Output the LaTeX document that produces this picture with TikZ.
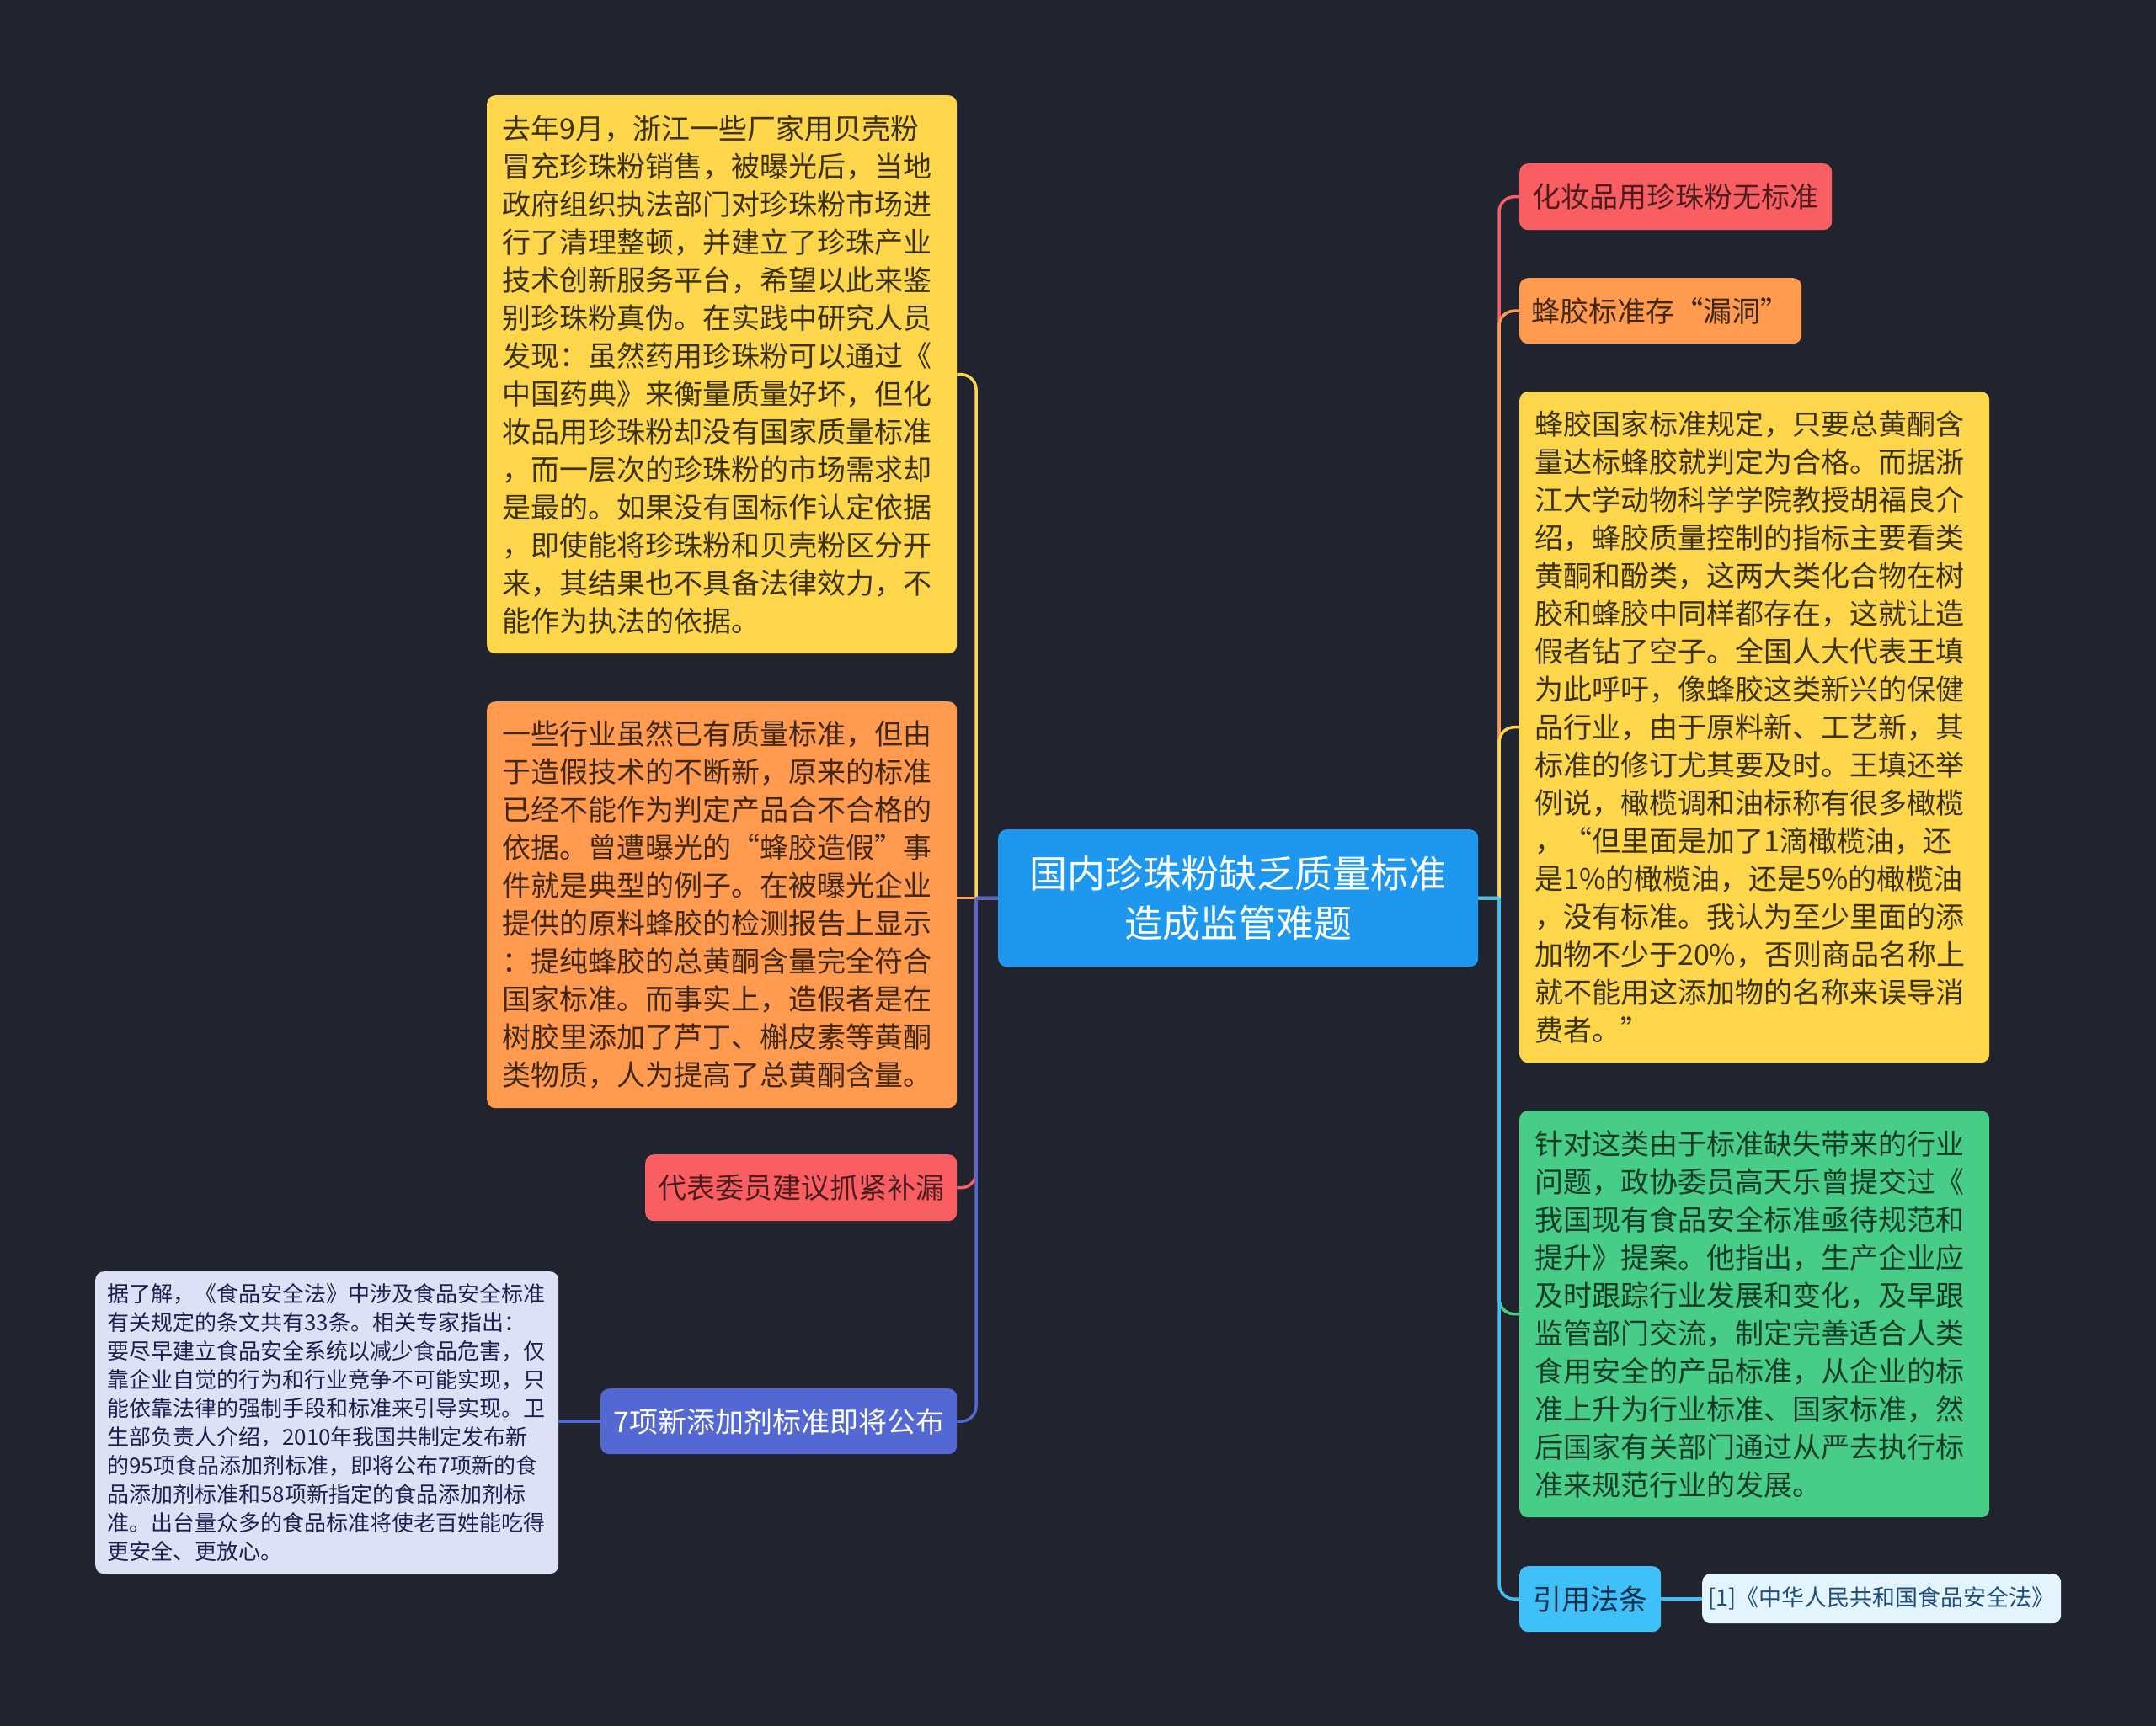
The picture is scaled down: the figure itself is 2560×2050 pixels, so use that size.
\documentclass[tikz,border=0pt]{standalone}
\usepackage{fontspec}
\setmainfont{Noto Sans CJK SC}
\definecolor{bgc}{HTML}{21242F}
\definecolor{cblue}{HTML}{1E98EE}
\definecolor{yel}{HTML}{FDD64B}
\definecolor{ora}{HTML}{FF9A4F}
\definecolor{redc}{HTML}{F95E62}
\definecolor{ind}{HTML}{5468D4}
\definecolor{gry}{HTML}{DDE1F5}
\definecolor{grn}{HTML}{48CD88}
\definecolor{lbl}{HTML}{3FC0F8}
\definecolor{citebg}{HTML}{E3F4FC}
\definecolor{citetxt}{HTML}{1E4E7C}
\definecolor{tyel}{HTML}{3A3210}
\definecolor{tora}{HTML}{3F2815}
\definecolor{tred}{HTML}{4B1B1D}
\definecolor{tgrn}{HTML}{163C28}
\definecolor{tlbl}{HTML}{0F3048}
\definecolor{tgry}{HTML}{1D2150}
\begin{document}
\begin{tikzpicture}[x=1pt,y=-1pt,
  boxbase/.style={rounded corners=10pt, inner ysep=0pt, anchor=north west},
  bigbox/.style={boxbase, font=\fontsize{34}{45}\selectfont, align=left, text width=522pt, inner xsep=18pt},
  smallbox/.style={boxbase, font=\fontsize{34}{45}\selectfont, inner xsep=0pt, minimum height=79pt},
  conn/.style={line width=3.5pt},
  trunk/.style={conn, rounded corners=18pt}
]
\fill[bgc] (0,0) rectangle (2560,2050);
\useasboundingbox (0,0) rectangle (2560,2050);

% center
\node[boxbase, fill=cblue, text=white, font=\fontsize{45}{59}\selectfont, align=center,
  minimum width=570pt, minimum height=163pt, inner xsep=0pt] (center) at (1185,985)
  {国内珍珠粉缺乏质量标准\\造成监管难题};

% left side
\node[bigbox, fill=yel, text=tyel, minimum height=663pt] (ly) at (578,113) {去年9月，浙江一些厂家用贝壳粉\\
冒充珍珠粉销售，被曝光后，当地\\
政府组织执法部门对珍珠粉市场进\\
行了清理整顿，并建立了珍珠产业\\
技术创新服务平台，希望以此来鉴\\
别珍珠粉真伪。在实践中研究人员\\
发现：虽然药用珍珠粉可以通过《\\
中国药典》来衡量质量好坏，但化\\
妆品用珍珠粉却没有国家质量标准\\
，而一层次的珍珠粉的市场需求却\\
是最的。如果没有国标作认定依据\\
，即使能将珍珠粉和贝壳粉区分开\\
来，其结果也不具备法律效力，不\\
能作为执法的依据。};

\node[bigbox, fill=ora, text=tora, minimum height=483pt] (lo) at (578,833) {一些行业虽然已有质量标准，但由\\
于造假技术的不断新，原来的标准\\
已经不能作为判定产品合不合格的\\
依据。曾遭曝光的“蜂胶造假”事\\
件就是典型的例子。在被曝光企业\\
提供的原料蜂胶的检测报告上显示\\
：提纯蜂胶的总黄酮含量完全符合\\
国家标准。而事实上，造假者是在\\
树胶里添加了芦丁、槲皮素等黄酮\\
类物质，人为提高了总黄酮含量。};

\node[smallbox, fill=redc, text=tred, minimum width=370pt] (lr) at (766,1371) {代表委员建议抓紧补漏};
\node[smallbox, fill=ind, text=white, minimum width=423pt, minimum height=78pt] (li) at (713,1649) {7项新添加剂标准即将公布};

\node[boxbase, fill=gry, text=tgry, font=\fontsize{26}{34}\selectfont, align=left,
  text width=522pt, inner xsep=14pt, minimum height=359pt] (gray) at (113,1510) {据了解，《食品安全法》中涉及食品安全标准\\
有关规定的条文共有33条。相关专家指出：\\
要尽早建立食品安全系统以减少食品危害，仅\\
靠企业自觉的行为和行业竞争不可能实现，只\\
能依靠法律的强制手段和标准来引导实现。卫\\
生部负责人介绍，2010年我国共制定发布新\\
的95项食品添加剂标准，即将公布7项新的食\\
品添加剂标准和58项新指定的食品添加剂标\\
准。出台量众多的食品标准将使老百姓能吃得\\
更安全、更放心。};

% right side
\node[smallbox, fill=redc, text=tred, minimum width=371pt] (rr) at (1804,194) {化妆品用珍珠粉无标准};
\node[smallbox, fill=ora, text=tora, minimum width=335pt, minimum height=78pt] (ro) at (1804,330) {蜂胶标准存“漏洞”};

\node[bigbox, fill=yel, text=tyel, minimum height=797pt] (ry) at (1804,465) {蜂胶国家标准规定，只要总黄酮含\\
量达标蜂胶就判定为合格。而据浙\\
江大学动物科学学院教授胡福良介\\
绍，蜂胶质量控制的指标主要看类\\
黄酮和酚类，这两大类化合物在树\\
胶和蜂胶中同样都存在，这就让造\\
假者钻了空子。全国人大代表王填\\
为此呼吁，像蜂胶这类新兴的保健\\
品行业，由于原料新、工艺新，其\\
标准的修订尤其要及时。王填还举\\
例说，橄榄调和油标称有很多橄榄\\
，“但里面是加了1滴橄榄油，还\\
是1\%的橄榄油，还是5\%的橄榄油\\
，没有标准。我认为至少里面的添\\
加物不少于20\%，否则商品名称上\\
就不能用这添加物的名称来误导消\\
费者。”};

\node[bigbox, fill=grn, text=tgrn, minimum height=483pt] (rg) at (1804,1319) {针对这类由于标准缺失带来的行业\\
问题，政协委员高天乐曾提交过《\\
我国现有食品安全标准亟待规范和\\
提升》提案。他指出，生产企业应\\
及时跟踪行业发展和变化，及早跟\\
监管部门交流，制定完善适合人类\\
食用安全的产品标准，从企业的标\\
准上升为行业标准、国家标准，然\\
后国家有关部门通过从严去执行标\\
准来规范行业的发展。};

\node[smallbox, fill=lbl, text=tlbl, minimum width=168pt, minimum height=78pt] (rb) at (1804,1860) {引用法条};
\node[boxbase, fill=citebg, text=citetxt, font=\fontsize{27}{34}\selectfont, inner xsep=0pt,
  minimum width=426pt, minimum height=59pt] (cite) at (2021,1869) {[1]《中华人民共和国食品安全法》};

% trunk points
\coordinate (LT) at (1159,1066.5);
\coordinate (RT) at (1780,1066.5);

% left connectors
\draw[conn, yel] (center.west) -- (LT);
\draw[trunk, yel] (LT) |- (ly.east);
\draw[conn, ora] (center.west) -- (lo.east |- center.west);
\draw[conn, redc] (center.west) -- (LT);
\draw[trunk, redc] (LT) |- (lr.east);
\draw[conn, ind] (center.west) -- (LT);
\draw[trunk, ind] (LT) |- (li.east);
\draw[conn, ind] (li.west) -- (gray.east |- li.west);

% right connectors
\draw[conn, redc] (center.east) -- (RT);
\draw[trunk, redc] (RT) |- (rr.west);
\draw[conn, ora] (center.east) -- (RT);
\draw[trunk, ora] (RT) |- (ro.west);
\draw[conn, yel] (center.east) -- (RT);
\draw[trunk, yel] (RT) |- (ry.west);
\draw[conn, grn] (center.east) -- (RT);
\draw[trunk, grn] (RT) |- (rg.west);
\draw[conn, lbl] (center.east) -- (RT);
\draw[trunk, lbl] (RT) |- (rb.west);
\draw[conn, lbl] (rb.east) -- (cite.west |- rb.east);
\end{tikzpicture}
\end{document}
